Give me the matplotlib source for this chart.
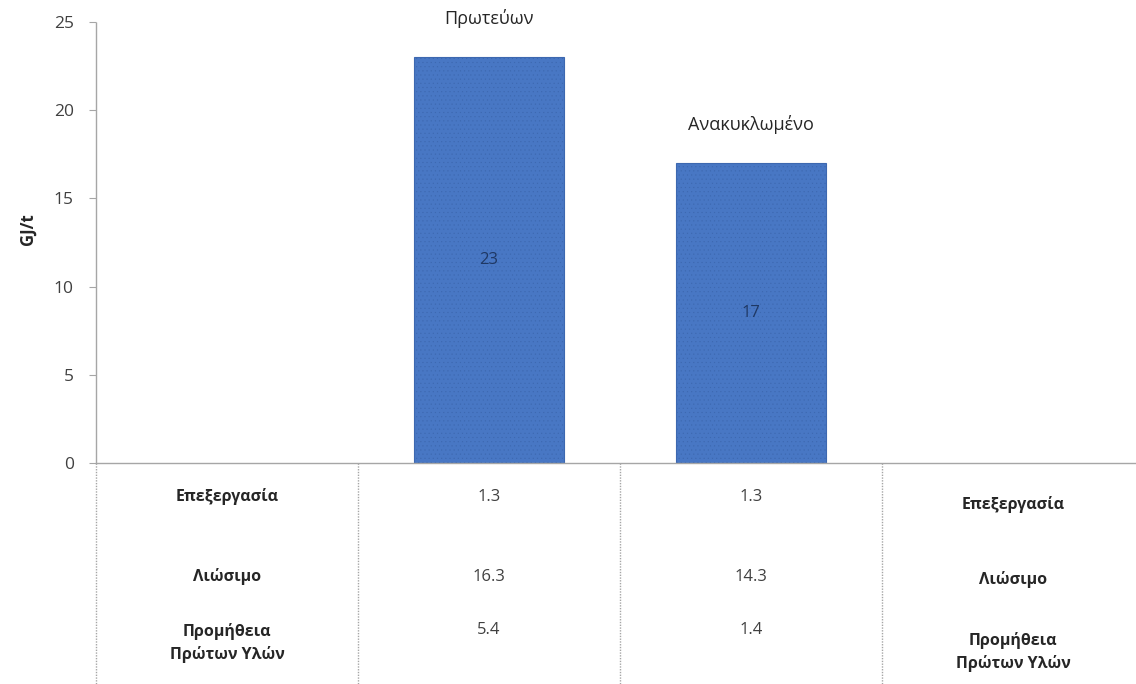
import matplotlib.pyplot as plt

plt.rcParams['font.family'] = ['Open Sans', 'DejaVu Sans']
plt.rcParams['hatch.color'] = "#7098d8"

# energy needed per tonne, primary vs recycled
categories = ["Πρωτεύων", "Ανακυκλωμένο"]
totals = [23, 17]
positions = [1, 2]

row_labels = ["Επεξεργασία", "Λιώσιμο", "Προμήθεια\nΠρώτων Υλών"]
primary_parts = [1.3, 16.3, 5.4]
recycled_parts = [1.3, 14.3, 1.4]

grey = "#a6a6a6"
text_col = "#404040"

fig = plt.figure(figsize=(11.36, 6.84), dpi=100)
ax = fig.add_axes([96 / 1136, 1 - 463 / 684, 1 - 96 / 1136, 441 / 684])

bars = ax.bar(positions, totals, width=0.57, color="#4877c4",
              edgecolor="#3d68b0", linewidth=0.8, hatch="....", zorder=2)
for b in bars:
    b.set_hatch_linewidth(0.3)

for x, v, name in zip(positions, totals, categories):
    ax.text(x, v / 2, str(v), ha="center", va="center", fontsize=12,
            color="#1f3864")
    ax.text(x, v + 2.2, name, ha="center", va="center", fontsize=13,
            color="#262626")

ax.set_xlim(-0.5, 3.47)
ax.set_ylim(0, 25)
ax.set_yticks([0, 5, 10, 15, 20, 25])
ax.set_xticks([])
ax.tick_params(axis="y", labelsize=12.5, labelcolor=text_col, color=grey,
               length=5, pad=11)
ax.set_ylabel("GJ/t", fontsize=12, fontweight="bold", color="#262626")
ax.yaxis.set_label_coords(-0.057, 0.53)

for side in ["top", "right"]:
    ax.spines[side].set_visible(False)
for side in ["left", "bottom"]:
    ax.spines[side].set_color(grey)
    ax.spines[side].set_linestyle((0, (1, 1)))
    ax.spines[side].set_linewidth(1)

# data table under the axis
trans = ax.get_xaxis_transform()
for xb in [-0.5, 0.5, 1.5, 2.5]:
    ax.plot([xb, xb], [0, -0.56], transform=trans, color=grey,
            linestyle=(0, (1, 1)), linewidth=1, clip_on=False)

left_rows_y = [-0.077, -0.258, -0.408]
right_rows_y = [-0.093, -0.265, -0.429]
value_rows_y = [-0.077, -0.258, -0.379]

for lab, yl, yr in zip(row_labels, left_rows_y, right_rows_y):
    ax.text(0, yl, lab, transform=trans, ha="center", va="center",
            fontsize=11.5, fontweight="bold", color="#262626",
            linespacing=1.45, clip_on=False)
    ax.text(3, yr, lab, transform=trans, ha="center", va="center",
            fontsize=11.5, fontweight="bold", color="#262626",
            linespacing=1.45, clip_on=False)

for yv, a, b in zip(value_rows_y, primary_parts, recycled_parts):
    ax.text(1, yv, f"{a}", transform=trans, ha="center", va="center",
            fontsize=12, color=text_col, clip_on=False)
    ax.text(2, yv, f"{b}", transform=trans, ha="center", va="center",
            fontsize=12, color=text_col, clip_on=False)

fig.savefig("out.png", dpi=100)
